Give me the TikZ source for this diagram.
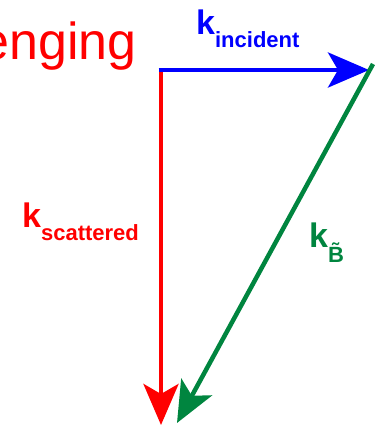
\documentclass[tikz,border=0pt]{standalone}
\usepackage{fontspec}
\setmainfont{Liberation Sans}
\usepackage{tikz}
\usetikzlibrary{arrows.meta,positioning}
\definecolor{kred}{RGB}{255,0,0}
\definecolor{kblue}{RGB}{0,0,255}
\definecolor{kgreen}{RGB}{0,133,63}
\newcommand{\ksub}[2][13pt]{\raisebox{-#1}{\fontsize{22}{22}\selectfont #2}}

\begin{document}
\begin{tikzpicture}[x=1pt, y=-1pt,
    kvec/.style={line width=4.5pt, -{Stealth[length=41pt, width=35pt, inset=10pt]}},
    klabel/.style={anchor=base west, inner sep=0pt, font=\bfseries\fontsize{34}{34}\selectfont}]
    \clip (0,0) rectangle (381,427);
    % the three wave vectors
    \coordinate (corner) at (161,70);
    \coordinate (tipI) at (369,70);
    \coordinate (tipS) at (161,425);
    \coordinate (startB) at (373,64);
    \coordinate (tipB) at (177,423);
    \draw[kvec, kblue] ([xshift=-2.5pt]corner) -- (tipI);
    \draw[kvec, kred] ([yshift=-2.5pt]corner) -- (tipS);
    \draw[kvec, kgreen] (startB) -- (tipB);
    % labels
    \node[anchor=base east, inner sep=0pt, text=kred, font=\fontsize{52}{52}\selectfont] (title) at (137,60) {enging};
    \node[klabel, text=kblue] (kinc) at (196,35) {k\ksub{incident}};
    \node[klabel, text=kred] (ksca) at (22,227) {k\ksub{scattered}};
    \node[klabel, text=kgreen] (kB) at (309,247) {k\ksub[15pt]{\~{B}}};
\end{tikzpicture}
\end{document}
